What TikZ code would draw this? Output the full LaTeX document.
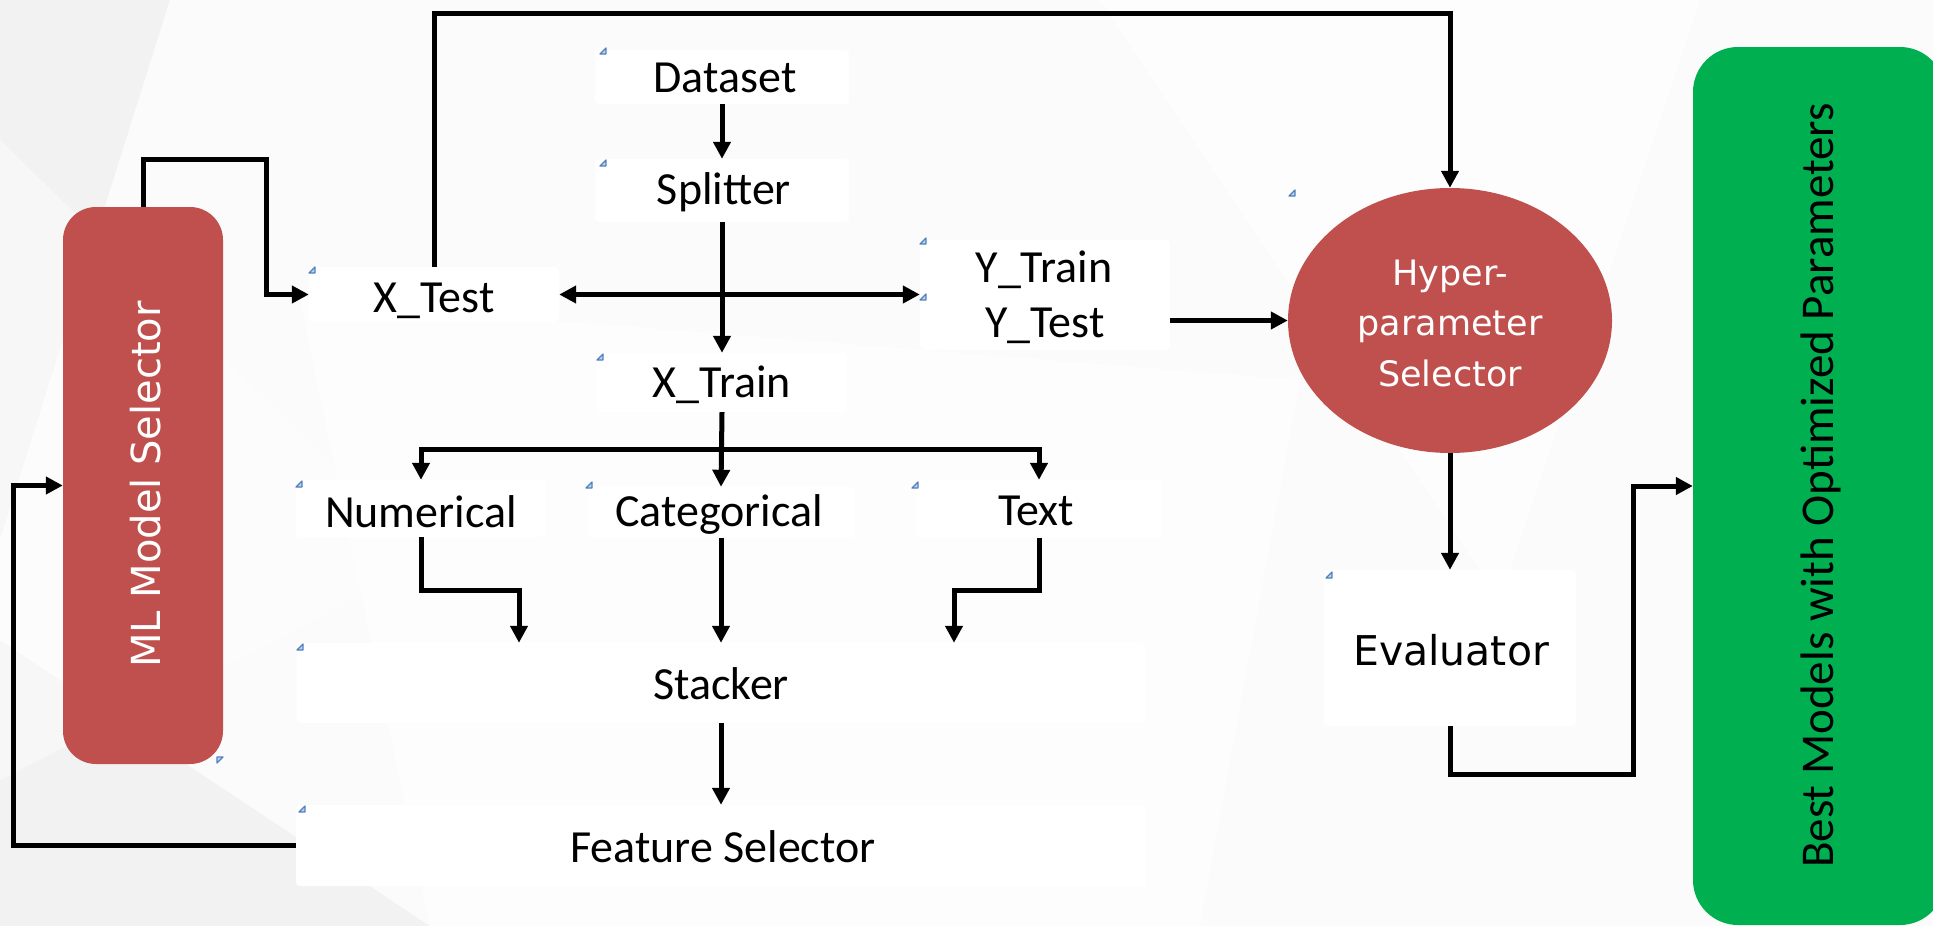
\documentclass[tikz,border=0pt]{standalone}
\usepackage{fontspec}
\setmainfont{Carlito}
\newfontfamily\dvsans{DejaVu Sans}
\usetikzlibrary{arrows.meta,shapes.geometric}
\definecolor{bgc}{HTML}{F2F2F2}
\definecolor{redc}{HTML}{C0504D}
\definecolor{greenc}{HTML}{00B050}
\definecolor{markc}{HTML}{4F81BD}
\newcommand{\blueMark}[2]{\draw[mk] (#1-3,#2+3) -- (#1+3,#2+3) -- (#1+3,#2-3) -- cycle;}
\begin{document}
\begin{tikzpicture}[x=1pt,y=-1pt,
  wbox/.style={fill=white, draw=none, rounded corners=4pt, inner sep=0pt},
  lbl/.style={inner sep=0pt, anchor=base, font=\fontsize{46}{55}\selectfont},
  wlbl/.style={inner sep=0pt, anchor=base, text=white, font=\dvsans\fontsize{35}{42}\selectfont},
  tipa/.tip={Triangle[length=17pt,width=17pt]},
  arr/.style={line width=5pt, -tipa},
  darr/.style={line width=5pt, tipa-tipa},
  mk/.style={draw=markc, fill=markc!35, line width=1.2pt, line join=round}
]
\useasboundingbox (0,0) rectangle (1933,926);
% background
\fill[bgc] (0,0) rectangle (1933,926);
\fill[white, opacity=0.75] (170,0) -- (1933,0) -- (1933,926) -- (430,926) -- (0,640) -- (0,540) -- cycle;
\fill[white, opacity=0.45] (0,140) -- (430,560) -- (0,780) -- cycle;
\fill[white, opacity=0.5] (1100,0) -- (1700,0) -- (1500,600) -- cycle;
\fill[white, opacity=0.5] (300,300) -- (1300,380) -- (1200,926) -- (430,926) -- cycle;

% white text boxes
\node[wbox, minimum width=254pt, minimum height=54pt] (dataset) at (722,77) {};
\node[wbox, minimum width=254pt, minimum height=63pt] (splitter) at (722,190.5) {};
\node[wbox, minimum width=250pt, minimum height=59pt] (xtrain) at (722,382.5) {};
\node[wbox, minimum width=250pt, minimum height=55pt] (xtest) at (434,294.5) {};
\node[wbox, minimum width=250pt, minimum height=110pt] (ybox) at (1045,295) {};
\node[wbox, minimum width=250pt, minimum height=57pt] (numerical) at (421,508.5) {};
\node[wbox, minimum width=266pt, minimum height=51pt] (categorical) at (721,512.5) {};
\node[wbox, minimum width=246pt, minimum height=58pt] (textn) at (1039,509) {};
\node[wbox, minimum width=848pt, minimum height=80pt] (stacker) at (721,683) {};
\node[wbox, minimum width=850pt, minimum height=81pt] (feature) at (721,845.5) {};
\node[wbox, minimum width=252pt, minimum height=156pt] (evalbox) at (1450,648) {};

% coloured shapes
\node[fill=redc, rounded corners=33pt, minimum width=160pt, minimum height=557pt, inner sep=0pt] (ml) at (143,485.5) {};
\node[ellipse, fill=redc, minimum width=324pt, minimum height=265pt, inner sep=0pt] (hyper) at (1450,320.5) {};
\node[fill=greenc, rounded corners=45pt, minimum width=252pt, minimum height=878pt, inner sep=0pt] (green) at (1819,486) {};

% helper coordinates
\coordinate (br) at (721,449);
\coordinate (n1) at (519,590);
\coordinate (t1) at (954,590);
\coordinate (fbx) at (13,0);
\coordinate (l1) at (266,159);
\coordinate (t0) at (800,13);
\coordinate (e1) at (1633,774);

% connectors
\draw[arr] (dataset.south) -- (splitter.north);
\draw[arr] (splitter.south) -- (xtrain.north);
\draw[darr] (xtest.east) -- (xtest.east -| ybox.west);
\draw[arr] (xtrain.south) -- (categorical.north);
\draw[arr] (br) -| (numerical.north);
\draw[arr] (br) -| (textn.north);
\draw[arr] (numerical.south) |- (n1) -- (n1 |- stacker.north);
\draw[arr] (categorical.south) -- (stacker.north);
\draw[arr] (textn.south) |- (t1) -- (t1 |- stacker.north);
\draw[arr] (stacker.south) -- (feature.north);
\draw[arr] (feature.west) -- (feature.west -| fbx) |- (ml.west);
\draw[arr] (ml.north) |- (l1) |- (xtest.west);
\draw[arr] (xtest.north) |- (t0) -| (hyper.north);
\draw[arr] (ybox.east |- hyper.west) -- (hyper.west);
\draw[arr] (hyper.south) -- (evalbox.north);
\draw[arr] (evalbox.south) |- (e1) |- (green.west);

% labels
\node[lbl] (dataset-t) at (725,92) {Dataset};
\node[lbl] (splitter-t) at (724,204) {Splitter};
\node[lbl] (xtrain-t) at (722,397) {X\_Train};
\node[lbl] (xtest-t) at (434,312) {X\_Test};
\node[lbl] (ytrain-t) at (1044,282) {Y\_Train};
\node[lbl] (ytest-t) at (1045,337) {Y\_Test};
\node[lbl] (numerical-t) at (421,527) {Numerical};
\node[lbl] (categorical-t) at (719,526) {Categorical};
\node[lbl] (textn-t) at (1036,525) {Text};
\node[lbl] (stacker-t) at (721,699) {Stacker};
\node[lbl] (feature-t) at (723,862) {Feature Selector};
\node[inner sep=0pt, anchor=base, font=\dvsans\fontsize{41}{49}\selectfont] (eval-t) at (1451,665) {Evaluator};
\node[wlbl] (hyper-t1) at (1450,285) {Hyper-};
\node[wlbl] (hyper-t2) at (1450,335) {parameter};
\node[wlbl] (hyper-t3) at (1450,386) {Selector};
\node[inner sep=0pt, anchor=base, rotate=90, text=white, font=\dvsans\fontsize{40}{48}\selectfont] (ml-t) at (160,484.5) {ML Model Selector};
\node[inner sep=0pt, anchor=base, rotate=90, font=\fontsize{47}{56}\selectfont] (green-t) at (1833,485.5) {Best Models with Optimized Parameters};

% text-box anchor marks
\blueMark{603}{51}
\blueMark{603}{163}
\blueMark{600}{357}
\blueMark{923}{241}
\blueMark{923}{297}
\blueMark{312}{270}
\blueMark{299}{484}
\blueMark{300}{647}
\blueMark{302}{809}
\blueMark{589}{485}
\blueMark{915}{485}
\blueMark{1292}{193}
\blueMark{1329}{575}
\draw[mk] (217,757) -- (223,757) -- (217,763) -- cycle;
\end{tikzpicture}
\end{document}
